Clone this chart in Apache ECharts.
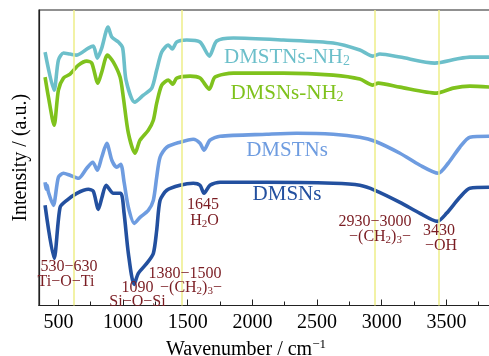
<!DOCTYPE html>
<html>
<head>
<meta charset="utf-8">
<script src="https://cdn.jsdelivr.net/npm/echarts@6/dist/echarts.min.js"></script>
<style>
html,body{margin:0;padding:0;background:#fff;}
#c{width:489px;height:356px;}
</style>
</head>
<body>
<div id="c"></div>
<script>
// Wavenumbers (cm^-1) and intensities (a.u., offset traces)
const dmsnsX = [397,467,513,565,642,732,770,809,835,869,925,982,1008,1041,1085,1118,1183,1234,1260,1286,1338,1440,1543,1595,1626,1672,1750,2110,2625,2831,2948,3141,3296,3430,3501,3604,3682,3845];
const dmsnsY = [100,47,98,105,112,116,114,96,107,120,112,112,92,52,21,32,42,52,75,105,115,120,122,120,112,120,123,123,122,120,115,103,92,84,92,108,117,118];

const dmstnsX = [397,405,413,423,461,500,539,590,655,719,766,801,835,874,913,951,982,1008,1041,1087,1131,1195,1234,1260,1286,1338,1440,1543,1595,1626,1672,1750,2110,2342,2625,2831,2948,3141,3296,3437,3514,3604,3682,3845];
const dmstnsY = [123,116,120,113,100,128,132,130,127,137,143,135,148,162,145,138,141,123,98,82,88,95,105,128,148,158,163,166,162,155,165,169,171,172,171,168,164,152,140,132,142,158,168,169];

const dmsnsNH2X = [397,423,467,500,539,590,655,719,758,805,835,879,925,977,1002,1041,1093,1131,1195,1234,1260,1299,1350,1384,1415,1518,1595,1667,1711,1853,2239,2625,2831,2930,2973,3141,3424,3553,3682,3845];
const dmsnsNH2Y = [228,208,180,215,227,231,240,244,242,222,233,250,243,228,208,172,152,165,175,185,202,220,225,221,227,229,227,216,228,232,232,230,226,220,222,218,212,217,219,218];

const dmstnsNH2X = [397,467,500,539,590,642,732,770,801,835,884,913,964,997,1023,1090,1157,1222,1260,1299,1350,1381,1415,1492,1595,1667,1724,1853,2239,2625,2831,2930,2986,3141,3411,3579,3682,3845];
const dmstnsNH2Y = [253,215,245,252,251,250,257,259,247,257,278,268,263,257,225,203,210,217,235,253,260,256,263,265,263,249,264,267,265,262,255,249,251,248,242,246,248,248];

const markerLines = [620, 1450, 2945, 3440];

const seriesNames = ['DMSNs','DMSTNs','DMSNs-NH2','DMSTNs-NH2'];
const seriesColors = ['#23509f','#6e9ce0','#7fc21d','#6cbfca'];

function zip(xs, ys){ return xs.map((x,i)=>[x, ys[i]]); }

const SERIF = "'Liberation Serif','Times New Roman',serif";
const RED = '#7a1c22';

const chart = echarts.init(document.getElementById('c'), null, {renderer:'canvas'});

const dataSets = [zip(dmsnsX,dmsnsY), zip(dmstnsX,dmstnsY), zip(dmsnsNH2X,dmsnsNH2Y), zip(dmstnsNH2X,dmstnsNH2Y)];

const series = dataSets.map((d,i)=>({
  name: seriesNames[i], type:'line', data:d, showSymbol:false, smooth:0.25,
  lineStyle:{color:seriesColors[i], width:3.6}, z:3, silent:true
}));
series.push({
  type:'line', data:[], z:1, silent:true,
  markLine:{silent:true, symbol:'none', label:{show:false},
    lineStyle:{color:'#eeee88', width:1.5, type:'solid'},
    data: markerLines.map(v=>({xAxis:v}))}
});

function ann(text, x, y){
  return {type:'text', x:x, y:y, z:10, style:{text:text, font:'16px '+SERIF, fill:RED,
    align:'center', verticalAlign:'middle', textAlign:'center', textVerticalAlign:'middle',
    rich:{s:{fontSize:11, fill:RED, fontFamily:SERIF, padding:[7,0,0,0]}}}};
}
function lab(text, x, y, color){
  return {type:'text', x:x, y:y, z:10, style:{text:text, font:'21px '+SERIF, fill:color,
    align:'center', verticalAlign:'middle', textAlign:'center', textVerticalAlign:'middle',
    rich:{s:{fontSize:14, fill:color, fontFamily:SERIF, padding:[9,0,0,0]}}}};
}

chart.setOption({
  animation:false,
  backgroundColor:'#fff',
  grid:{left:39, right:-2, top:10, bottom:50.5, show:true, borderColor:'#222', borderWidth:1.2,
    containLabel:false, outerBoundsMode:'none'},
  xAxis:{type:'value', min:350, max:3845, splitNumber:7,
    axisLine:{show:true, lineStyle:{color:'#222', width:1.2}},
    axisTick:{show:true, inside:true, length:6, lineStyle:{color:'#222'}},
    minorTick:{show:true, splitNumber:2, length:4, lineStyle:{color:'#222'}},
    splitLine:{show:false},
    axisLabel:{color:'#000', fontFamily:SERIF, fontSize:20, margin:7, showMinLabel:false, showMaxLabel:false,
      formatter:function(v){return String(v);}},
    name:'Wavenumber / cm{sup|−1}', nameLocation:'middle', nameGap:33,
    nameTextStyle:{color:'#000', fontFamily:SERIF, fontSize:20, padding:[0,38,0,0],
      rich:{sup:{fontSize:13, fontFamily:SERIF, color:'#000', padding:[0,0,10,0]}}}
  },
  yAxis:{type:'value', min:0, max:295,
    axisLine:{show:true, lineStyle:{color:'#222', width:1.2}},
    axisTick:{show:false}, axisLabel:{show:false}, splitLine:{show:false},
    name:'Intensity / (a.u.)', nameLocation:'middle', nameGap:8,
    nameTextStyle:{color:'#000', fontFamily:SERIF, fontSize:20}
  },
  series: series,
  graphic:[
    lab('DMSTNs-NH{s|2}', 287, 57, seriesColors[3]),
    lab('DMSNs-NH{s|2}', 287, 93, seriesColors[2]),
    lab('DMSTNs', 287, 150, seriesColors[1]),
    lab('DMSNs', 287, 194.5, seriesColors[0]),
    ann('530−630', 69, 267),
    ann('Ti−O−Ti', 66, 281.5),
    ann('1090', 137.5, 288),
    ann('Si−O−Si', 137.5, 302),
    ann('1380−1500', 185, 273.5),
    ann('−(CH{s|2}){s|3}−', 191, 288),
    ann('1645', 203, 205),
    ann('H{s|2}O', 204.5, 221),
    ann('2930−3000', 375, 222),
    ann('−(CH{s|2}){s|3}−', 380, 236.5),
    ann('3430', 439, 230.5),
    ann('−OH', 441, 246)
  ]
});
</script>
</body>
</html>
